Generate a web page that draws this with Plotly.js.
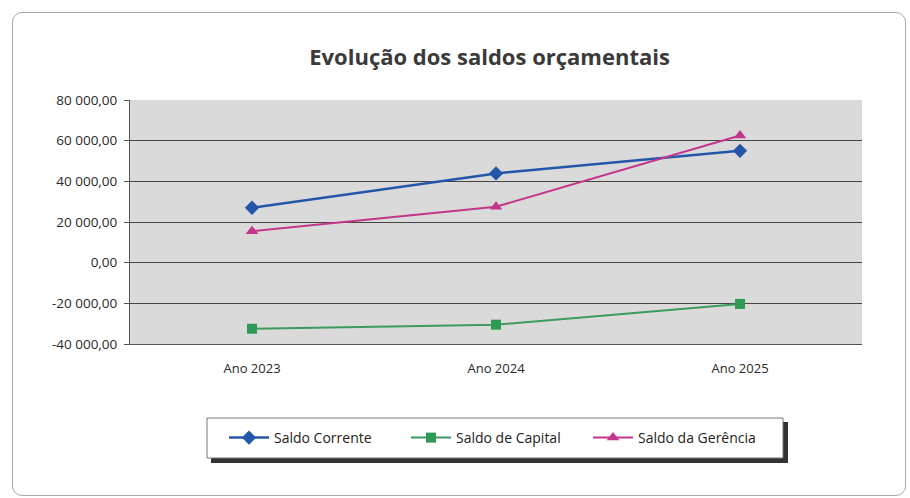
<!DOCTYPE html>
<html>
<head>
<meta charset="utf-8">
<script src="https://cdn.plot.ly/plotly-3.0.1.min.js"></script>
<style>
  body { margin: 0; background: #fff; }
  #frame { position: absolute; left: 12px; top: 12px; width: 892px; height: 482px;
           border: 1px solid #a8a8a8; border-radius: 10px; pointer-events: none; }
  #chart { width: 910px; height: 498px; }
</style>
</head>
<body>
<div id="chart"></div>
<div id="frame"></div>
<script>
// anos e saldos
var anos = ['Ano 2023', 'Ano 2024', 'Ano 2025'];
var saldoCorrente = [27000, 43900, 55000];
var saldoCapital = [-32500, -30500, -20300];
var saldoGerencia = [15500, 27500, 62500];

var yTicks = [-40000, -20000, 0, 20000, 40000, 60000, 80000];
var yLabels = ['-40 000,00', '-20 000,00', '0,00', '20 000,00', '40 000,00', '60 000,00', '80 000,00'];

var data = [
  {
    name: 'Saldo Corrente', x: anos, y: saldoCorrente, type: 'scatter', mode: 'lines+markers',
    line: { color: '#2356a8', width: 2.5 },
    marker: { symbol: 'diamond', size: 11, color: '#2356a8' }
  },
  {
    name: 'Saldo de Capital', x: anos, y: saldoCapital, type: 'scatter', mode: 'lines+markers',
    line: { color: '#3d9a5e', width: 2 },
    marker: { symbol: 'square', size: 10, color: '#2f9a55' }
  },
  {
    name: 'Saldo da Gerência', x: anos, y: saldoGerencia, type: 'scatter', mode: 'lines+markers',
    line: { color: '#c2368c', width: 2 },
    marker: { symbol: 'triangle-up', size: 11, color: '#c2368c' }
  }
];

// pixel -> paper helpers (plot area 130..862 x 100..344)
function px(x) { return (x - 130) / 732; }
function py(y) { return (344 - y) / 244; }

var layout = {
  width: 910, height: 498,
  margin: { l: 130, r: 48, t: 100, b: 154 },
  paper_bgcolor: '#ffffff',
  plot_bgcolor: '#dadada',
  font: { family: 'Open Sans, sans-serif', size: 12, color: '#333' },
  title: {
    text: '<b>Evolução dos saldos orçamentais</b>',
    font: { size: 22, color: '#3a3a3a' },
    x: 0.538, xanchor: 'center', y: 0.885, yanchor: 'middle'
  },
  xaxis: {
    type: 'category', range: [-0.5, 2.5],
    showgrid: false, zeroline: false,
    showline: true, linecolor: '#555', linewidth: 1,
    ticks: '', ticklabelstandoff: 12,
    tickfont: { size: 13, color: '#2a2a2a' }
  },
  yaxis: {
    range: [-40000, 80000], tickvals: yTicks, ticktext: yLabels,
    showgrid: true, gridcolor: '#454545', gridwidth: 1,
    zeroline: false,
    showline: true, linecolor: '#555', linewidth: 1,
    ticks: 'outside', ticklen: 5, tickcolor: '#555', ticklabelstandoff: 4,
    tickfont: { size: 13.5, color: '#2a2a2a' }
  },
  showlegend: true,
  legend: {
    orientation: 'h', x: px(497), xanchor: 'center', y: py(438), yanchor: 'middle',
    bgcolor: 'rgba(0,0,0,0)', borderwidth: 0,
    font: { size: 14, color: '#222' },
    entrywidth: 127, itemwidth: 40
  },
  shapes: [
    {
      type: 'rect', xref: 'paper', yref: 'paper', layer: 'above',
      x0: px(211), x1: px(788), y0: py(463), y1: py(422),
      fillcolor: '#333', line: { width: 0 }
    },
    {
      type: 'rect', xref: 'paper', yref: 'paper', layer: 'above',
      x0: px(207), x1: px(783), y0: py(458), y1: py(418),
      fillcolor: '#ffffff', line: { color: '#777', width: 1 }
    }
  ]
};

Plotly.newPlot('chart', data, layout, { displayModeBar: false });
</script>
</body>
</html>
